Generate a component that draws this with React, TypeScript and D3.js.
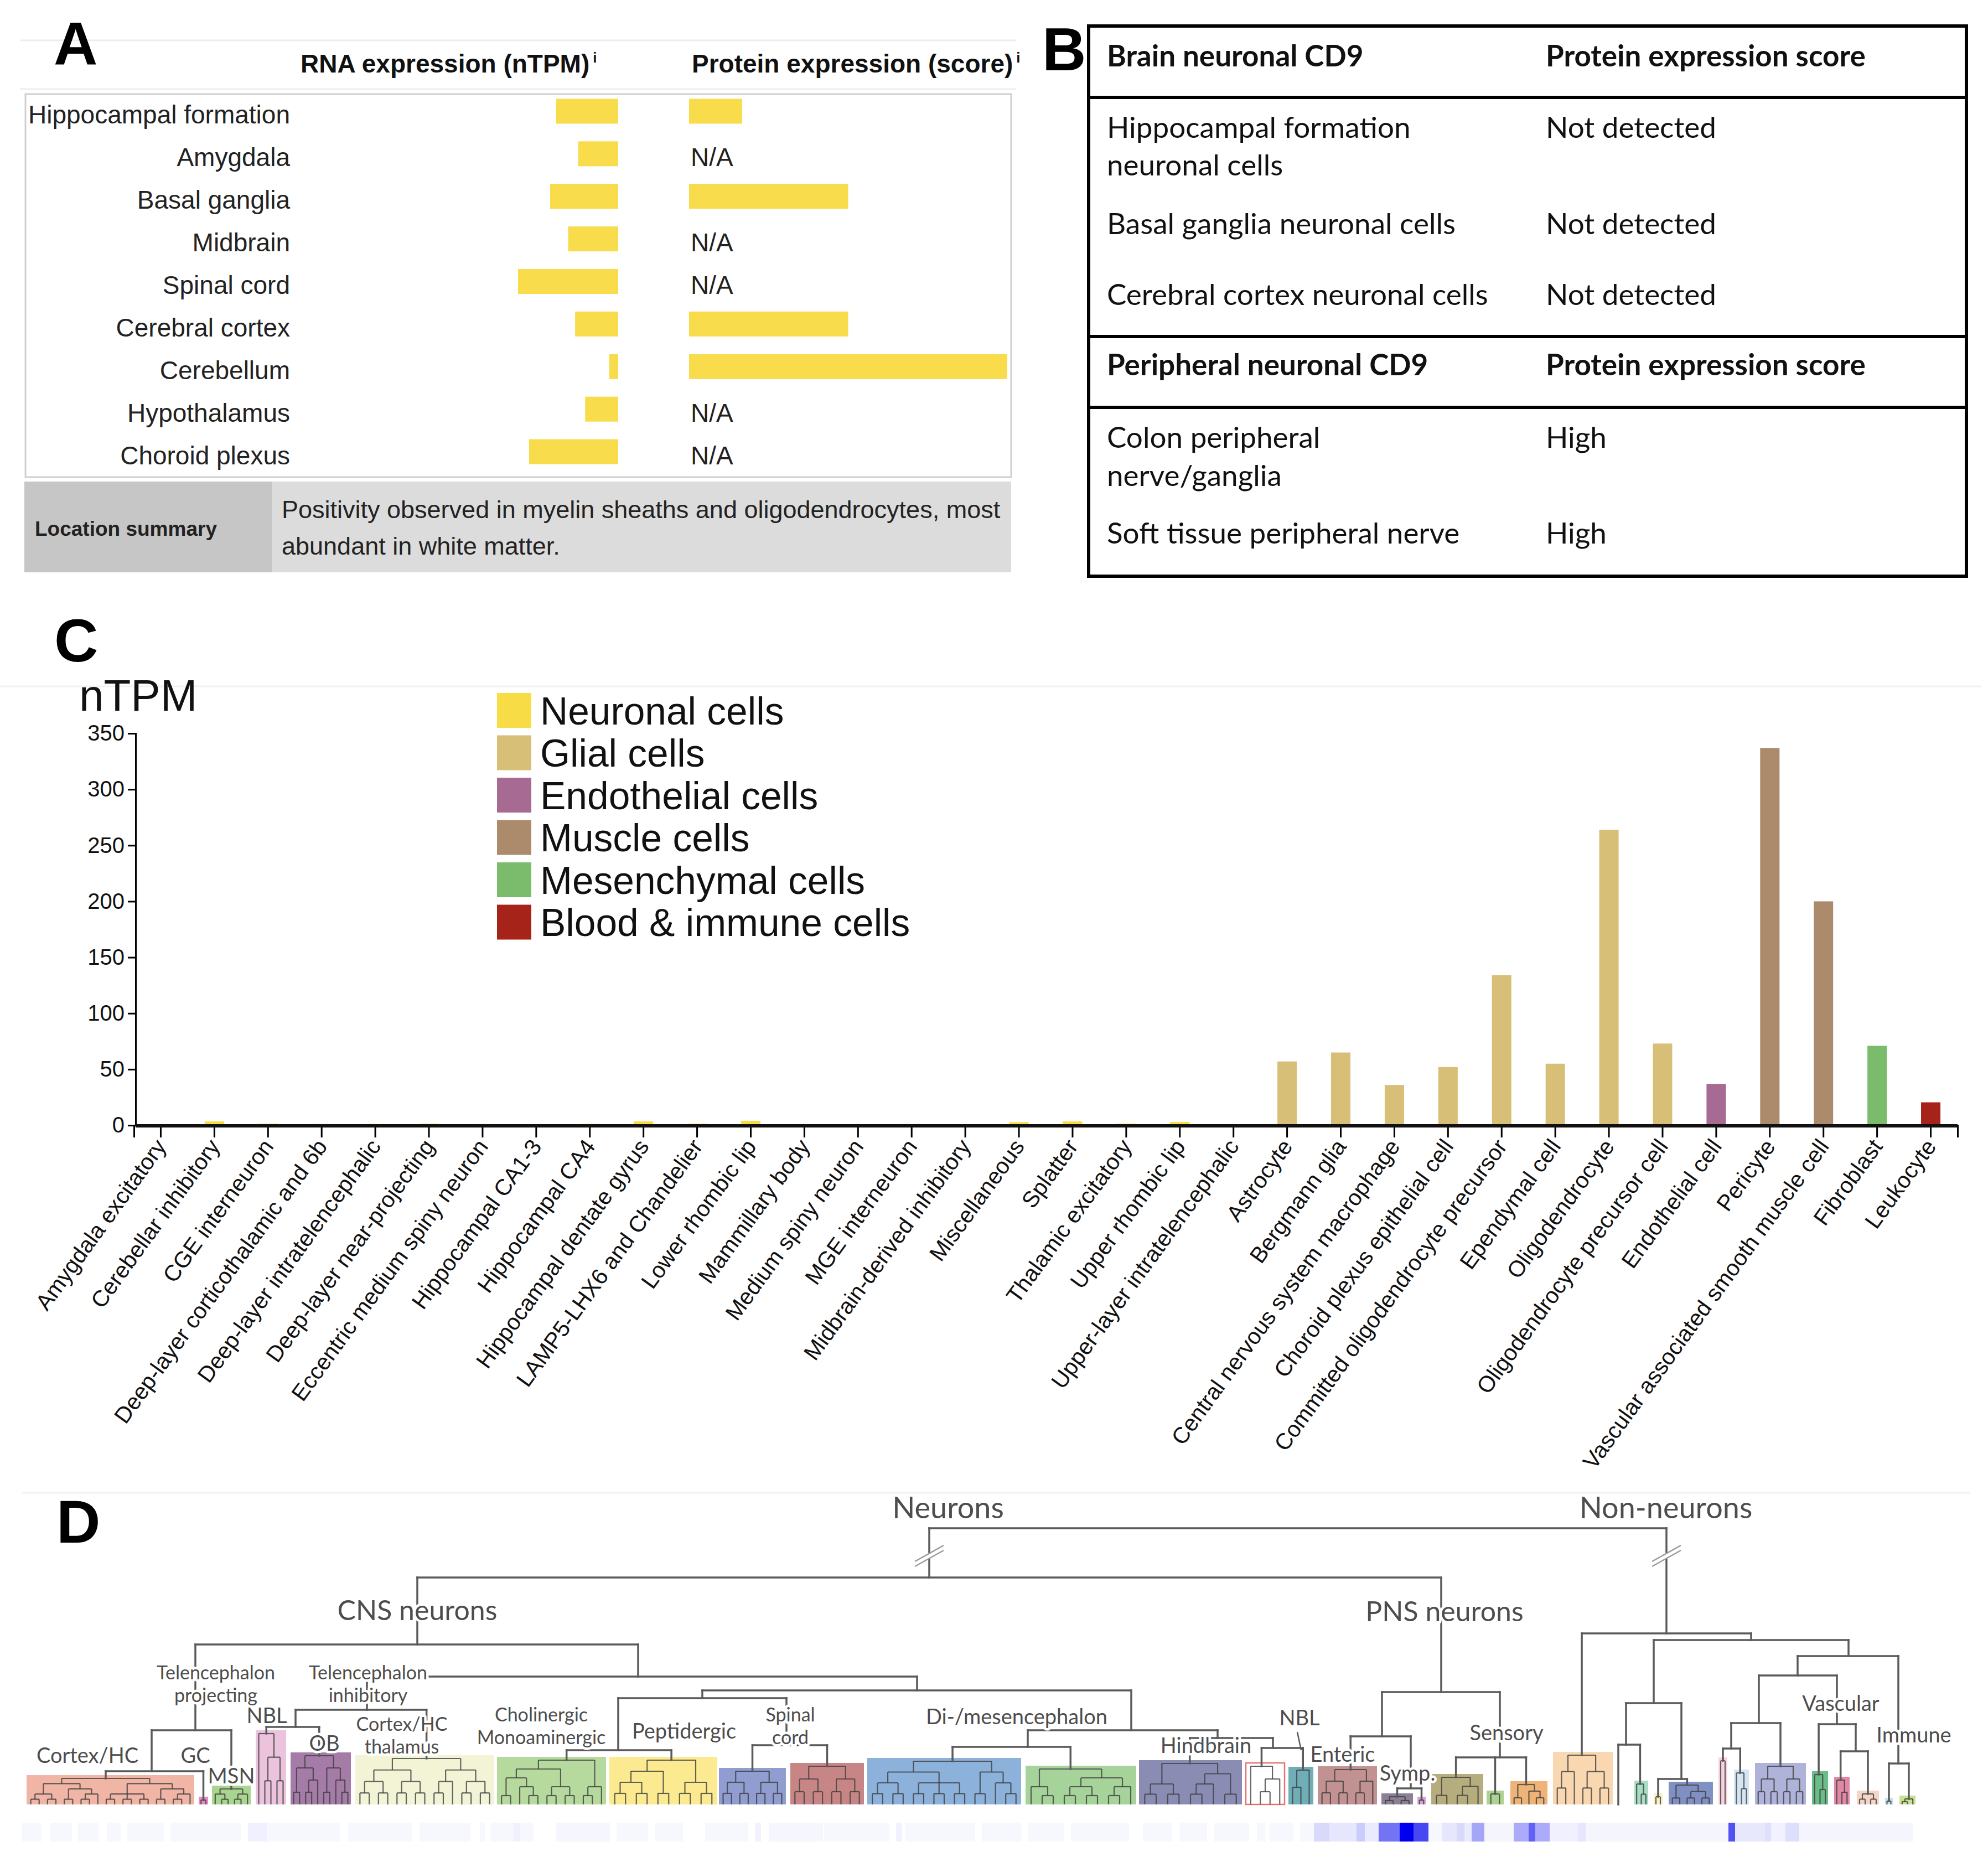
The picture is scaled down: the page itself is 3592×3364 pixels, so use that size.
import { useEffect, useRef } from 'react'
import * as d3 from 'd3'

// ---------- Panel A data ----------
const regionNames = [
  'Hippocampal formation', 'Amygdala', 'Basal ganglia', 'Midbrain', 'Spinal cord',
  'Cerebral cortex', 'Cerebellum', 'Hypothalamus', 'Choroid plexus'
]
const regionRna = [62, 40, 68, 50, 100, 43, 9, 33, 89]
// protein bar lengths (score units), null = N/A
const regionProtein: (number | null)[] = [1, null, 3, null, null, 3, 6, null, null]
const locationSummary = [
  'Positivity observed in myelin sheaths and oligodendrocytes, most',
  'abundant in white matter.'
]

// ---------- Panel B data ----------
const brainHeader = ['Brain neuronal CD9', 'Protein expression score']
const brainRows = [
  { tissue: ['Hippocampal formation', 'neuronal cells'], score: 'Not detected' },
  { tissue: ['Basal ganglia neuronal cells'], score: 'Not detected' },
  { tissue: ['Cerebral cortex neuronal cells'], score: 'Not detected' }
]
const peripheralHeader = ['Peripheral neuronal CD9', 'Protein expression score']
const peripheralRows = [
  { tissue: ['Colon peripheral', 'nerve/ganglia'], score: 'High' },
  { tissue: ['Soft tissue peripheral nerve'], score: 'High' }
]

// ---------- Panel C data ----------
const cellTypes = [
  'Amygdala excitatory', 'Cerebellar inhibitory', 'CGE interneuron', 'Deep-layer corticothalamic and 6b',
  'Deep-layer intratelencephalic', 'Deep-layer near-projecting', 'Eccentric medium spiny neuron',
  'Hippocampal CA1-3', 'Hippocampal CA4', 'Hippocampal dentate gyrus', 'LAMP5-LHX6 and Chandelier',
  'Lower rhombic lip', 'Mammillary body', 'Medium spiny neuron', 'MGE interneuron',
  'Midbrain-derived inhibitory', 'Miscellaneous', 'Splatter', 'Thalamic excitatory', 'Upper rhombic lip',
  'Upper-layer intratelencephalic', 'Astrocyte', 'Bergmann glia', 'Central nervous system macrophage',
  'Choroid plexus epithelial cell', 'Committed oligodendrocyte precursor', 'Ependymal cell',
  'Oligodendrocyte', 'Oligodendrocyte precursor cell', 'Endothelial cell', 'Pericyte',
  'Vascular associated smooth muscle cell', 'Fibroblast', 'Leukocyte'
]
const cellNtpm = [
  1, 3.5, 1.5, 1.2, 1.2, 1.5, 1.2, 0.3, 1.3, 3.5, 1.5, 4, 0.5, 1, 1.2, 0.8, 2.8, 3.5, 1.5, 3, 1,
  57, 65, 36, 52, 134, 55, 264, 73, 37, 337, 200, 71, 20.5
]
const groupNames = ['Neuronal cells', 'Glial cells', 'Endothelial cells', 'Muscle cells', 'Mesenchymal cells', 'Blood & immune cells']
const groupColors = ['#f7dc45', '#d8bf77', '#a66a93', '#ac8b6d', '#7abc6c', '#a52318']
const cellGroup = [
  0, 0, 0, 0, 0, 0, 0, 0, 0, 0, 0, 0, 0, 0, 0, 0, 0, 0, 0, 0, 0,
  1, 1, 1, 1, 1, 1, 1, 1, 2, 3, 3, 4, 5
]
const nTpmTicks = [0, 50, 100, 150, 200, 250, 300, 350]

// ---------- Panel D data (dendrogram: pos along leaf axis, h = merge height) ----------
type TreeNode = { id: string; pos: number; h: number; parent: string | null; cut?: boolean }
const treeNodes: TreeNode[] = [
  { id: 'root', pos: 2345, h: 499, parent: null },
  { id: 'neurons', pos: 1679, h: 410, parent: 'root', cut: true },
  { id: 'nonNeurons', pos: 3011, h: 309, parent: 'root', cut: true },
  { id: 'cns', pos: 754, h: 289, parent: 'neurons' },
  { id: 'pns', pos: 2604, h: 203, parent: 'neurons' },
  { id: 'telProj', pos: 353, h: 134, parent: 'cns' },
  { id: 'telMid', pos: 1153, h: 231, parent: 'cns' },
  { id: 'cortexHC', pos: 274, h: 60, parent: 'telProj' },
  { id: 'telInh', pos: 663, h: 171, parent: 'telMid' },
  { id: 'nblOb', pos: 534, h: 140, parent: 'telInh' },
  { id: 'diencGroup', pos: 1657, h: 206, parent: 'telMid' },
  { id: 'cholPepSpinal', pos: 1269, h: 192, parent: 'diencGroup' },
  { id: 'cholPep', pos: 1117, h: 98, parent: 'cholPepSpinal' },
  { id: 'spinal', pos: 1421, h: 107, parent: 'cholPepSpinal' },
  { id: 'midHind', pos: 2044, h: 134, parent: 'diencGroup' },
  { id: 'diMes', pos: 1857, h: 104, parent: 'midHind' },
  { id: 'hindGroup', pos: 2200, h: 120, parent: 'midHind' },
  { id: 'nbl2', pos: 2300, h: 102, parent: 'hindGroup' },
  { id: 'entSym', pos: 2497, h: 123, parent: 'pns' },
  { id: 'symp', pos: 2549, h: 29, parent: 'entSym' },
  { id: 'sensory', pos: 2710, h: 85, parent: 'pns' },
  { id: 'nn1', pos: 3164, h: 297, parent: 'nonNeurons' },
  { id: 'nn2', pos: 2988, h: 183, parent: 'nn1' },
  { id: 'nn2a', pos: 2938, h: 108, parent: 'nn2' },
  { id: 'nn2b', pos: 3038, h: 46, parent: 'nn2' },
  { id: 'nn3', pos: 3340, h: 268, parent: 'nn1' },
  { id: 'nn4', pos: 3248, h: 233, parent: 'nn3' },
  { id: 'nn5', pos: 3178, h: 147, parent: 'nn4' },
  { id: 'pinkGrp', pos: 3128, h: 101, parent: 'nn5' },
  { id: 'vasc', pos: 3319, h: 145, parent: 'nn4' },
  { id: 'v2', pos: 3353, h: 96, parent: 'vasc' },
  { id: 'immune', pos: 3430, h: 74, parent: 'nn3' }
]

type Sub = number | Sub[]
type Cluster = { id: string; parent: string; pos: number; x0: number; x1: number; h: number; fill: string | null; stroke?: string; tree: Sub | null }
const treeClusters: Cluster[] = [
  { id: 'cortex', parent: 'cortexHC', pos: 184, x0: 48, x1: 351, h: 47, fill: '#f1b5a5', tree: [[[[0, 0], [0, 0]], [[0, 0], [[0, 0], 0]]], [[[0, 0], [0, 0], [0, 0]], [[0, 0], [[0, 0], 0]]]] },
  { id: 'pinkLeaf', parent: 'cortexHC', pos: 367, x0: 359, x1: 376, h: 8, fill: '#e58ac4', tree: [0, 0] },
  { id: 'msn', parent: 'telProj', pos: 425, x0: 383, x1: 453, h: 28, fill: '#a9d591', tree: [[0, [0, 0]], [[0, 0], 0]] },
  { id: 'nbl', parent: 'nblOb', pos: 479, x0: 462, x1: 517, h: 128, fill: '#ecc3dd', tree: [0, [[0, 0], [0, 0]]] },
  { id: 'ob', parent: 'nblOb', pos: 588, x0: 525, x1: 634, h: 88, fill: '#a57ba8', tree: [[[0, 0], [[0, 0], 0]], [[0, 0], [0, [0, 0]]]] },
  { id: 'ctxThal', parent: 'telInh', pos: 766, x0: 642, x1: 893, h: 83, fill: '#f3f4d6', tree: [[[[0, 0], [0, 0]], [[0, 0], [0, 0]]], [[[0, 0], 0], [[0, 0], [0, 0]]]] },
  { id: 'chol', parent: 'cholPep', pos: 1011, x0: 898, x1: 1095, h: 80, fill: '#b6da9d', tree: [[[[0, 0], [0, [0, 0]]], [[0, 0], [0, 0]]], [[0, 0], 0]] },
  { id: 'pep', parent: 'cholPep', pos: 1224, x0: 1101, x1: 1296, h: 80, fill: '#fbea90', tree: [[[[0, 0], [0, 0]], [0, 0]], [[0, 0], [0, 0]]] },
  { id: 'spinBlue', parent: 'spinal', pos: 1342, x0: 1299, x1: 1420, h: 60, fill: '#8f9dd0', tree: [[[0, 0], [0, 0]], [[0, 0], [0, 0]]] },
  { id: 'spinRed', parent: 'spinal', pos: 1497, x0: 1428, x1: 1561, h: 69, fill: '#c88585', tree: [[[0, 0], [0, 0]], [[0, 0], [0, 0]]] },
  { id: 'blueBig', parent: 'diMes', pos: 1778, x0: 1567, x1: 1845, h: 78, fill: '#8cb1db', tree: [[[[0, 0], [0, 0]], [[0, 0], [0, 0], [0, 0]]], [[0, 0], [0, [0, 0]]]] },
  { id: 'green2', parent: 'diMes', pos: 1936, x0: 1853, x1: 2053, h: 64, fill: '#a5d399', tree: [[0, [0, 0]], [[[0, 0], [0, 0]], [[0, 0], 0]]] },
  { id: 'hind', parent: 'hindGroup', pos: 2156, x0: 2058, x1: 2244, h: 74, fill: '#8a8cb4', tree: [[[0, 0], [0, 0]], [[[0, 0], 0], [0, 0]]] },
  { id: 'redOut', parent: 'nbl2', pos: 2280, x0: 2251, x1: 2321, h: 69, fill: '#ffffff', stroke: '#e57373', tree: [0, [[0, 0], 0]] },
  { id: 'teal', parent: 'nbl2', pos: 2350, x0: 2328, x1: 2373, h: 62, fill: '#6fadb7', tree: [[0, 0], 0] },
  { id: 'enteric', parent: 'entSym', pos: 2446, x0: 2381, x1: 2488, h: 63, fill: '#c29292', tree: [[[0, 0], [0, 0]], [[0, 0], 0]] },
  { id: 'symGray', parent: 'symp', pos: 2525, x0: 2496, x1: 2553, h: 14, fill: '#8b8096', tree: [[0, 0], [0, 0]] },
  { id: 'symPink', parent: 'symp', pos: 2568, x0: 2561, x1: 2576, h: 8, fill: '#d9a3dc', tree: [0, 0] },
  { id: 'olive', parent: 'sensory', pos: 2629, x0: 2586, x1: 2680, h: 49, fill: '#b6ad7e', tree: [[0, 0], [[0, 0], 0]] },
  { id: 'senGreen', parent: 'sensory', pos: 2700, x0: 2686, x1: 2717, h: 19, fill: '#acd38f', tree: [0, 0] },
  { id: 'orange', parent: 'sensory', pos: 2756, x0: 2729, x1: 2796, h: 36, fill: '#f0b377', tree: [[0, 0], [0, [0, 0]]] },
  { id: 'nnOrange', parent: 'nonNeurons', pos: 2858, x0: 2806, x1: 2914, h: 89, fill: '#f9d7b0', tree: [[[0, 0], 0], [[0, 0], [0, 0]]] },
  { id: 'leafW', parent: 'nn2a', pos: 2924, x0: 2924, x1: 2924, h: 0, fill: null, tree: null },
  { id: 'mint', parent: 'nn2a', pos: 2965, x0: 2953, x1: 2978, h: 37, fill: '#a9dcc4', tree: [0, [0, 0]] },
  { id: 'cream', parent: 'nn2b', pos: 2997, x0: 2988, x1: 3004, h: 14, fill: '#f7f1c4', tree: [0, 0] },
  { id: 'blueNN', parent: 'nn2b', pos: 3055, x0: 3015, x1: 3095, h: 35, fill: '#8090c3', tree: [[0, 0], [[0, 0], [0, 0]]] },
  { id: 'pinkTall', parent: 'pinkGrp', pos: 3113, x0: 3105, x1: 3121, h: 79, fill: '#f6d3de', tree: [0, 0] },
  { id: 'wTall', parent: 'pinkGrp', pos: 3142, x0: 3133, x1: 3160, h: 57, fill: '#d5e5f3', tree: [0, [0, 0]] },
  { id: 'lavender', parent: 'nn5', pos: 3229, x0: 3171, x1: 3263, h: 69, fill: '#afb2d9', tree: [[[0, 0], [0, 0]], [[0, 0], [0, 0]]] },
  { id: 'green3', parent: 'vasc', pos: 3287, x0: 3274, x1: 3303, h: 54, fill: '#69bd87', tree: [0, [0, 0]] },
  { id: 'pinkBox', parent: 'v2', pos: 3328, x0: 3314, x1: 3342, h: 44, fill: '#e188a6', tree: [0, [0, 0]] },
  { id: 'peach', parent: 'v2', pos: 3373, x0: 3355, x1: 3395, h: 19, fill: '#f4d5c6', tree: [[0, 0], [0, 0]] },
  { id: 'ltBlue2', parent: 'immune', pos: 3413, x0: 3406, x1: 3420, h: 6, fill: '#c1e4ef', tree: [0, 0] },
  { id: 'ltGreen2', parent: 'immune', pos: 3446, x0: 3432, x1: 3461, h: 10, fill: '#c8e291', tree: [[0, 0], 0] }
]

// h = height of the label block's centre above the leaf baseline
const dendroLabels = [
  { lines: ['Neurons'], pos: 1713, h: 536, size: 54 },
  { lines: ['Non-neurons'], pos: 3010, h: 536, size: 54 },
  { lines: ['CNS neurons'], pos: 754, h: 351, size: 50 },
  { lines: ['PNS neurons'], pos: 2610, h: 349, size: 50 },
  { lines: ['Telencephalon', 'projecting'], pos: 390, h: 218, size: 34 },
  { lines: ['Telencephalon', 'inhibitory'], pos: 665, h: 218, size: 34 },
  { lines: ['Cortex/HC'], pos: 158, h: 89, size: 38 },
  { lines: ['GC'], pos: 353, h: 89, size: 38 },
  { lines: ['MSN'], pos: 418, h: 52, size: 38 },
  { lines: ['NBL'], pos: 482, h: 161, size: 38 },
  { lines: ['OB'], pos: 586, h: 111, size: 38 },
  { lines: ['Cortex/HC', 'thalamus'], pos: 726, h: 125, size: 34 },
  { lines: ['Cholinergic', 'Monoaminergic'], pos: 978, h: 142, size: 34 },
  { lines: ['Peptidergic'], pos: 1236, h: 133, size: 38 },
  { lines: ['Spinal', 'cord'], pos: 1428, h: 142, size: 34 },
  { lines: ['Di-/mesencephalon'], pos: 1837, h: 159, size: 38 },
  { lines: ['Hindbrain'], pos: 2179, h: 107, size: 38 },
  { lines: ['NBL'], pos: 2348, h: 157, size: 38 },
  { lines: ['Enteric'], pos: 2426, h: 91, size: 38 },
  { lines: ['Symp.'], pos: 2543, h: 57, size: 38 },
  { lines: ['Sensory'], pos: 2722, h: 130, size: 38 },
  { lines: ['Vascular'], pos: 3326, h: 183, size: 38 },
  { lines: ['Immune'], pos: 3458, h: 126, size: 38 }
]

// heatmap strip under the dendrogram: [start, end, relative expression]
const heatCells: [number, number, number][] = [
  [40, 75, 0.03], [90, 130, 0.03], [141, 178, 0.03], [193, 218, 0.03], [230, 296, 0.03], [308, 436, 0.03],
  [448, 482, 0.06], [482, 614, 0.03], [629, 744, 0.03], [758, 850, 0.03], [867, 876, 0.03], [886, 928, 0.03],
  [928, 939, 0.06], [939, 964, 0.03], [1005, 1102, 0.035], [1114, 1171, 0.03], [1183, 1234, 0.03],
  [1274, 1352, 0.03], [1364, 1375, 0.05], [1389, 1487, 0.035], [1489, 1607, 0.03], [1619, 1630, 0.05],
  [1636, 1762, 0.03], [1774, 1846, 0.03], [1857, 1923, 0.03], [1935, 2040, 0.03], [2065, 2118, 0.03],
  [2131, 2181, 0.03], [2194, 2257, 0.03], [2271, 2286, 0.03], [2294, 2337, 0.03], [2349, 2374, 0.03],
  [2374, 2402, 0.15], [2402, 2451, 0.1], [2451, 2466, 0.2], [2466, 2491, 0.08], [2491, 2529, 0.55],
  [2529, 2554, 1.0], [2554, 2581, 0.72], [2581, 2606, 0.03], [2606, 2632, 0.1], [2632, 2646, 0.15],
  [2646, 2659, 0.08], [2659, 2682, 0.35], [2682, 2735, 0.04], [2735, 2762, 0.33], [2762, 2774, 0.62],
  [2774, 2800, 0.33], [2800, 2851, 0.06], [2851, 2865, 0.1], [2865, 2943, 0.04], [2943, 3123, 0.04],
  [3123, 3135, 0.68], [3135, 3189, 0.09], [3189, 3200, 0.12], [3200, 3226, 0.05], [3226, 3251, 0.13],
  [3251, 3457, 0.04]
]

const ARIAL = '"Liberation Sans", Arial, sans-serif'
const CALIBRI = 'Lato, "Open Sans", sans-serif'
const MYRIAD = 'Lato, "Noto Sans", sans-serif'

type G = d3.Selection<SVGGElement, unknown, null, undefined>

function panelLetter(g: G, letter: string, x: number, y: number) {
  g.append('text')
    .attr('x', x).attr('y', y)
    .attr('font-family', ARIAL).attr('font-weight', 'bold').attr('font-size', 110)
    .text(letter)
}

function drawPanelA(g: G) {
  for (const yy of [73, 161]) {
    g.append('line').attr('x1', 36).attr('x2', 1836).attr('y1', yy).attr('y2', yy)
      .attr('stroke', '#eeeeee').attr('stroke-width', 3)
  }
  panelLetter(g, 'A', 97, 116)
  const headers: [string, number][] = [['RNA expression (nTPM)', 543], ['Protein expression (score)', 1250]]
  headers.forEach(([t, x]) => {
    const txt = g.append('text').attr('x', x).attr('y', 131)
      .attr('font-family', ARIAL).attr('font-weight', 'bold').attr('font-size', 46).attr('fill', '#111')
    txt.append('tspan').text(t)
    txt.append('tspan').attr('dx', 6).attr('dy', -18).attr('font-size', 26).text('i')
  })

  g.append('rect').attr('x', 46).attr('y', 170).attr('width', 1781).attr('height', 692)
    .attr('fill', '#fff').attr('stroke', '#cfcfcf').attr('stroke-width', 3)

  const y = d3.scaleBand().domain(regionNames).range([170, 862])
  const rna = d3.scaleLinear().domain([0, 100]).range([0, 181])
  const prot = d3.scaleLinear().domain([0, 6]).range([0, 575])
  const rnaRight = 1117
  const protLeft = 1245

  regionNames.forEach((name, i) => {
    const c = (y(name) ?? 0) + y.bandwidth() / 2
    g.append('text').attr('x', 524).attr('y', c + 15).attr('text-anchor', 'end')
      .attr('font-family', ARIAL).attr('font-size', 46).attr('fill', '#222').text(name)
    g.append('rect').attr('x', rnaRight - rna(regionRna[i])).attr('y', c - 30)
      .attr('width', rna(regionRna[i])).attr('height', 45).attr('fill', '#f8dc4b')
    const p = regionProtein[i]
    if (p == null) {
      g.append('text').attr('x', protLeft + 3).attr('y', c + 15)
        .attr('font-family', ARIAL).attr('font-size', 46).attr('fill', '#222').text('N/A')
    } else {
      g.append('rect').attr('x', protLeft).attr('y', c - 30)
        .attr('width', prot(p)).attr('height', 45).attr('fill', '#f8dc4b')
    }
  })

  g.append('rect').attr('x', 44).attr('y', 870).attr('width', 447).attr('height', 164).attr('fill', '#c6c6c6')
  g.append('rect').attr('x', 491).attr('y', 870).attr('width', 1336).attr('height', 164).attr('fill', '#dcdcdc')
  g.append('text').attr('x', 63).attr('y', 968)
    .attr('font-family', ARIAL).attr('font-weight', 'bold').attr('font-size', 37).attr('fill', '#222')
    .text('Location summary')
  locationSummary.forEach((line, i) => {
    g.append('text').attr('x', 509).attr('y', 936 + i * 66)
      .attr('font-family', ARIAL).attr('font-size', 45).attr('fill', '#222').text(line)
  })
}

function drawPanelB(g: G) {
  panelLetter(g, 'B', 1883, 127)
  const left = 1967, right = 3553
  g.append('rect').attr('x', left).attr('y', 47).attr('width', right - left).attr('height', 994)
    .attr('fill', 'none').attr('stroke', '#000').attr('stroke-width', 6)
  for (const yy of [176, 608, 736]) {
    g.append('line').attr('x1', left).attr('x2', right).attr('y1', yy).attr('y2', yy)
      .attr('stroke', '#000').attr('stroke-width', 6)
  }
  const col1 = 2000, col2 = 2793, fs = 53
  const put = (t: string, x: number, cy: number, bold = false) =>
    g.append('text').attr('x', x).attr('y', cy + fs * 0.36)
      .attr('font-family', CALIBRI).attr('font-size', fs).attr('font-weight', bold ? 'bold' : 'normal')
      .attr('fill', '#111').text(t)

  put(brainHeader[0], col1, 101, true)
  put(brainHeader[1], col2, 101, true)
  const brainY = [230, 404, 532]
  brainRows.forEach((r, i) => {
    r.tissue.forEach((t, j) => put(t, col1, brainY[i] + j * 68))
    put(r.score, col2, brainY[i])
  })
  put(peripheralHeader[0], col1, 659, true)
  put(peripheralHeader[1], col2, 659, true)
  const periY = [790, 963]
  peripheralRows.forEach((r, i) => {
    r.tissue.forEach((t, j) => put(t, col1, periY[i] + j * 69))
    put(r.score, col2, periY[i])
  })
}

function drawPanelC(g: G) {
  g.append('line').attr('x1', 0).attr('x2', 3580).attr('y1', 1240).attr('y2', 1240)
    .attr('stroke', '#f2f2f2').attr('stroke-width', 3)
  panelLetter(g, 'C', 98, 1195)

  const x = d3.scaleBand().domain(cellTypes).range([242, 3537])
  const y = d3.scaleLinear().domain([0, 350]).range([2033, 1325])
  const barW = 35

  g.append('text').attr('x', 143).attr('y', 1284)
    .attr('font-family', ARIAL).attr('font-size', 80).attr('fill', '#111').text('nTPM')

  g.selectAll('rect.bar').data(cellTypes).enter().append('rect')
    .attr('class', 'bar')
    .attr('x', d => (x(d) ?? 0) + (x.bandwidth() - barW) / 2)
    .attr('width', barW)
    .attr('y', (_, i) => y(cellNtpm[i]))
    .attr('height', (_, i) => y(0) - y(cellNtpm[i]))
    .attr('fill', (_, i) => groupColors[cellGroup[i]])

  const yAxis = g.append('g').attr('transform', `translate(245,0)`)
    .call(d3.axisLeft(y).tickValues(nTpmTicks).tickSize(14).tickPadding(6))
  yAxis.attr('font-family', ARIAL).attr('font-size', 40)
  yAxis.select('.domain').attr('stroke-width', 3)
  yAxis.selectAll('.tick line').attr('stroke-width', 3)
  yAxis.selectAll('.tick text').attr('fill', '#111')

  const xAxis = g.append('g').attr('transform', `translate(0,${y(0)})`)
    .call(d3.axisBottom(x).tickSize(22).tickFormat(() => ''))
  xAxis.select('.domain').attr('stroke-width', 3)
  xAxis.selectAll('.tick line').attr('stroke-width', 3)
  g.append('line').attr('x1', 245).attr('x2', 3537).attr('y1', y(0) + 1).attr('y2', y(0) + 1)
    .attr('stroke', '#111').attr('stroke-width', 6)

  cellTypes.forEach(name => {
    const cx = (x(name) ?? 0) + x.bandwidth() / 2
    g.append('text')
      .attr('transform', `translate(${cx},${y(0) + 30}) rotate(-54)`)
      .attr('text-anchor', 'end').attr('dy', '0.35em')
      .attr('font-family', ARIAL).attr('font-size', 41).attr('fill', '#111')
      .text(name)
  })

  const legend = g.append('g').attr('transform', 'translate(898,1252)')
  groupNames.forEach((name, i) => {
    legend.append('rect').attr('x', 0).attr('y', i * 76.5).attr('width', 62).attr('height', 63)
      .attr('fill', groupColors[i])
    legend.append('text').attr('x', 78).attr('y', i * 76.5 + 31.5).attr('dy', '0.36em')
      .attr('font-family', ARIAL).attr('font-size', 69.5).attr('fill', '#111').text(name)
  })
}

function drawPanelD(g: G) {
  g.append('line').attr('x1', 40).attr('x2', 3560).attr('y1', 2697).attr('y2', 2697)
    .attr('stroke', '#f2f2f2').attr('stroke-width', 3)
  panelLetter(g, 'D', 102, 2787)

  const xD = d3.scaleLinear().domain([0, 3592]).range([0, 3592])
  const yD = d3.scaleLinear().domain([0, 500]).range([3260, 2760])
  const lineCol = '#5a5a5a'

  const posOf = new Map<string, number>()
  const yOf = new Map<string, number>()
  treeNodes.forEach(n => { posOf.set(n.id, xD(n.pos)); yOf.set(n.id, yD(n.h)) })

  // colored clusters with their inner sub-dendrograms
  const clusterG = g.append('g')
  treeClusters.forEach(c => {
    const left = xD(c.x0), right = xD(c.x1), top = yD(c.h), base = yD(0)
    yOf.set(c.id, top)
    if (!c.tree) { posOf.set(c.id, xD(c.pos)); return }
    clusterG.append('rect').attr('x', left).attr('y', top - 6).attr('width', right - left)
      .attr('height', base - top + 6).attr('fill', c.fill ?? 'none')
      .attr('stroke', c.stroke ?? 'none').attr('stroke-width', 2.5)
    const root = d3.hierarchy<Sub>(c.tree, d => (Array.isArray(d) ? d : null))
    d3.cluster<Sub>().size([right - left, base - top]).separation(() => 1)(root)
    const px = (n: d3.HierarchyPointNode<Sub>) => left + n.x
    const py = (n: d3.HierarchyPointNode<Sub>) => top + n.y
    const pr = root as d3.HierarchyPointNode<Sub>
    pr.descendants().forEach(n => {
      if (!n.children) return
      const xs = n.children.map(px)
      clusterG.append('line').attr('x1', d3.min(xs)!).attr('x2', d3.max(xs)!)
        .attr('y1', py(n)).attr('y2', py(n))
        .attr('stroke', '#3f3f3f').attr('stroke-opacity', 0.8).attr('stroke-width', 2.2)
      n.children.forEach(ch => {
        clusterG.append('line').attr('x1', px(ch)).attr('x2', px(ch))
          .attr('y1', py(n)).attr('y2', py(ch))
          .attr('stroke', '#3f3f3f').attr('stroke-opacity', 0.8).attr('stroke-width', 2.2)
      })
    })
    posOf.set(c.id, px(pr))
  })

  // skeleton of the main dendrogram
  const links = [
    ...treeNodes.map(n => ({ id: n.id, parent: n.parent })),
    ...treeClusters.map(c => ({ id: c.id, parent: c.parent as string | null }))
  ]
  const skel = g.append('g').attr('stroke', lineCol).attr('stroke-width', 3.5).attr('stroke-linecap', 'square')
  treeNodes.forEach(n => {
    const kids = links.filter(k => k.parent === n.id)
    if (!kids.length) return
    const xs = kids.map(k => posOf.get(k.id)!)
    if (n.parent) xs.push(posOf.get(n.id)!)
    skel.append('line').attr('x1', d3.min(xs)!).attr('x2', d3.max(xs)!)
      .attr('y1', yOf.get(n.id)!).attr('y2', yOf.get(n.id)!)
  })
  links.forEach(k => {
    if (!k.parent) return
    const xx = posOf.get(k.id)!
    skel.append('line').attr('x1', xx).attr('x2', xx)
      .attr('y1', yOf.get(k.id)!).attr('y2', yOf.get(k.parent)!)
  })

  // axis-break marks on the two long branches
  treeNodes.filter(n => n.cut).forEach(n => {
    const cx = posOf.get(n.id)!
    const cy = 2811
    g.append('polygon')
      .attr('points', `${cx - 24},${cy + 10} ${cx + 24},${cy - 18} ${cx + 24},${cy - 10} ${cx - 24},${cy + 18}`)
      .attr('fill', '#fff')
    for (const off of [0, 9]) {
      g.append('line').attr('x1', cx - 26).attr('y1', cy + 10 + off).attr('x2', cx + 26).attr('y2', cy - 19 + off)
        .attr('stroke', '#9a9a9a').attr('stroke-width', 2.5)
    }
  })

  // NBL pointer
  g.append('line').attr('x1', xD(2344)).attr('y1', 3129).attr('x2', xD(2351)).attr('y2', 3162)
    .attr('stroke', lineCol).attr('stroke-width', 2.5)

  // labels, white halo so branches pass behind them
  dendroLabels.forEach(l => {
    const gap = l.size * 1.22
    const n = l.lines.length
    l.lines.forEach((t, j) => {
      g.append('text').attr('x', xD(l.pos))
        .attr('y', yD(l.h) + (j - (n - 1) / 2) * gap + l.size * 0.36)
        .attr('text-anchor', 'middle')
        .attr('font-family', MYRIAD).attr('font-size', l.size).attr('fill', '#4d4d4d')
        .attr('stroke', '#fff').attr('stroke-width', 9).attr('stroke-linejoin', 'round')
        .attr('paint-order', 'stroke')
        .text(t)
    })
  })

  // expression heatmap strip
  const heat = d3.interpolateRgb('#ffffff', '#0000ee')
  g.selectAll('rect.heat').data(heatCells).enter().append('rect')
    .attr('class', 'heat')
    .attr('x', d => xD(d[0])).attr('width', d => xD(d[1]) - xD(d[0]))
    .attr('y', 3293).attr('height', 34)
    .attr('fill', d => heat(d[2]))
}

export default function App() {
  const svgRef = useRef<SVGSVGElement>(null)

  useEffect(() => {
    if (!svgRef.current) return
    const svg = d3.select(svgRef.current)
    svg.selectAll('*').remove()
    svg.append('rect').attr('width', 3592).attr('height', 3364).attr('fill', '#fff')
    drawPanelA(svg.append('g'))
    drawPanelB(svg.append('g'))
    drawPanelC(svg.append('g'))
    drawPanelD(svg.append('g'))
  }, [])

  return (
    <div>
      <style>{'body{margin:0;background:#fff}'}</style>
      <svg ref={svgRef} width={3592} height={3364} style={{ display: 'block' }} />
    </div>
  )
}
